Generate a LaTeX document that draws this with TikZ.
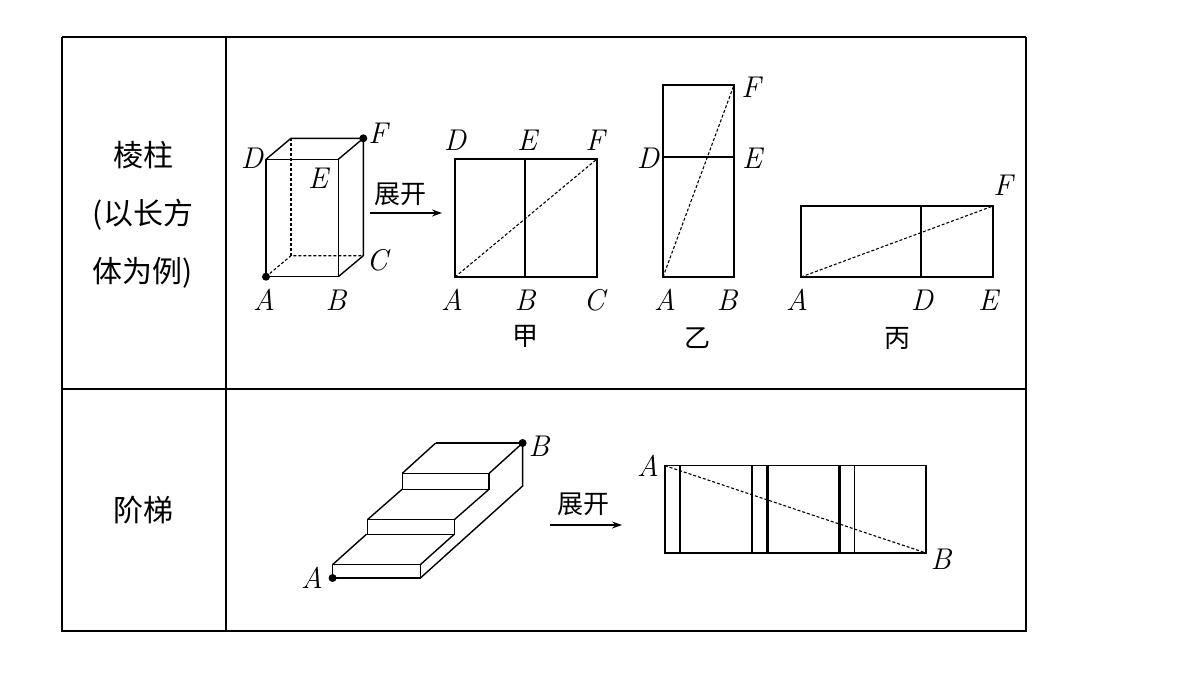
\documentclass[tikz,border=0pt]{standalone}
\usepackage{fontspec}
\usetikzlibrary{arrows.meta}
\newfontfamily\cjk{Noto Sans CJK SC}
\begin{document}
\begin{tikzpicture}[x=1pt,y=-1pt,
  ln/.style={line width=1.4pt},
  th/.style={line width=2.2pt},
  hid/.style={line width=1.1pt,dash pattern=on 3pt off 2pt},
  lab/.style={font=\fontsize{30}{32}\selectfont\itshape,inner sep=0pt},
  zh/.style={font=\cjk\fontsize{30}{34}\selectfont,inner sep=0pt,align=center},
  dot/.style={circle,fill,inner sep=0pt,minimum size=8pt},
  arr/.style={line width=1.3pt,-{Stealth[length=10pt,width=7pt]}}]
\useasboundingbox (0,0) rectangle (1200,675);
% table
\draw[line width=1.5pt] (62,37) -- (1026,37);
\draw[th] (62,37) -- (62,631) -- (1026,631) -- (1026,37);
\draw[line width=1.5pt] (226,37) -- (226,631);
\draw[line width=1.5pt] (62,389) -- (1026,389);
\node[zh] (t1) at (143,155) {棱柱};
\node[zh] (t2) at (143,215) {(以长方};
\node[zh] (t3) at (143,273) {体为例)};
\node[zh] (t4) at (143,510) {阶梯};
% box
\coordinate (bA) at (266,276.7); \coordinate (bB) at (338.3,276.7);
\coordinate (bD) at (266,159.3); \coordinate (bE) at (338.3,159.3);
\coordinate (bA2) at (291,255.7); \coordinate (bC) at (363.3,255.7);
\coordinate (bD2) at (291,138.3); \coordinate (bF) at (363.3,138.3);
\draw[ln] (bA) -- (bB) -- (bE) -- (bD) -- cycle;
\draw[ln] (bD) -- (bD2) -- (bF) -- (bE);
\draw[ln] (bF) -- (bC) -- (bB);
\draw[hid] (bA) -- (bA2) -- (bC);
\draw[hid] (bA2) -- (bD2);
\node[dot] (dA) at (bA) {}; \node[dot] (dF) at (bF) {};
\node[lab] (lD) at (252,158) {D};
\node[lab] (lE) at (318,178) {E};
\node[lab] (lF) at (378,133) {F};
\node[lab] (lC) at (377,260) {C};
\node[lab] (lA) at (264,300) {A};
\node[lab] (lB) at (336,300) {B};
\coordinate (a1s) at (370,213); \coordinate (a1e) at (442,213);
\draw[arr] (a1s) -- (a1e);
\node[zh,font=\cjk\fontsize{26}{28}\selectfont] (z1) at (400,194) {展开};
% jia
\draw[ln] (455,159) rectangle (597,277);
\draw[ln] (525,159) -- (525,277);
\coordinate (jA) at (455,277); \coordinate (jF) at (597,159);
\draw[hid] (jA) -- (jF);
\node[lab] at (455,140) {D}; \node[lab] at (527,140) {E}; \node[lab] at (595,140) {F};
\node[lab] at (452,300) {A}; \node[lab] at (525,300) {B}; \node[lab] at (594,300) {C};
\node[zh,font=\cjk\fontsize{26}{28}\selectfont] at (525,336) {甲};
% yi
\draw[ln] (663,85) rectangle (734,277);
\draw[ln] (663,157) -- (734,157);
\coordinate (yA) at (663,277); \coordinate (yF) at (734,85);
\draw[hid] (yA) -- (yF);
\node[lab] at (751,87) {F}; \node[lab] at (648,158) {D}; \node[lab] at (752,158) {E};
\node[lab] at (665,300) {A}; \node[lab] at (727,300) {B};
\node[zh,font=\cjk\fontsize{26}{28}\selectfont] at (697,338) {乙};
% bing
\draw[ln] (801,206) rectangle (993,277);
\draw[ln] (921,206) -- (921,277);
\coordinate (bbA) at (801,277); \coordinate (bbF) at (993,206);
\draw[hid] (bbA) -- (bbF);
\node[lab] at (1003,185) {F};
\node[lab] at (797,300) {A}; \node[lab] at (922,300) {D}; \node[lab] at (988,300) {E};
\node[zh,font=\cjk\fontsize{26}{28}\selectfont] at (897,338) {丙};
% stairs
\draw[ln] (332.6,578) rectangle (420.4,564.6);
\draw[ln] (332.6,564.6) -- (366.5,534.2);
\draw[ln] (420.4,564.6) -- (454.3,534.2);
\draw[ln] (367.4,534.2) rectangle (454.3,519.7);
\draw[ln] (367.4,519.7) -- (402.2,489.2);
\draw[ln] (454.3,519.7) -- (489.1,489.2);
\draw[ln] (402.2,489.2) rectangle (489.1,473.4);
\draw[ln] (402.2,473.4) -- (435.7,443);
\draw[ln] (489.1,473.4) -- (522.6,443);
\coordinate (sB) at (522.6,443); \coordinate (sA) at (332.6,578);
\draw[th] (435.7,443) -- (sB);
\draw[ln] (sB) -- (522.6,486) -- (420.4,578);
\draw[th] (sA) -- (420.4,578);
\node[dot] at (sA) {}; \node[dot] at (sB) {};
\node[lab] at (312,578) {A}; \node[lab] at (539,446) {B};
\coordinate (a2s) at (550,525); \coordinate (a2e) at (622,525);
\draw[arr] (a2s) -- (a2e);
\node[zh,font=\cjk\fontsize{26}{28}\selectfont] (z2) at (583,504) {展开};
% unfolded
\draw[ln] (664.8,465.6) rectangle (926,553);
\draw[th] (664.8,553) -- (926,553);
\draw[th] (680,465.6) -- (680,553);
\draw[ln] (752,465.6) -- (752,553);
\draw[th] (767.5,465.6) -- (767.5,553);
\draw[th] (839.5,465.6) -- (839.5,553);
\draw[ln] (854.5,465.6) -- (854.5,553);
\coordinate (uA) at (664.8,465.6); \coordinate (uB) at (926,553);
\draw[hid] (uA) -- (uB);
\node[lab] at (648,466) {A}; \node[lab] at (941,559) {B};
\end{tikzpicture}
\end{document}
